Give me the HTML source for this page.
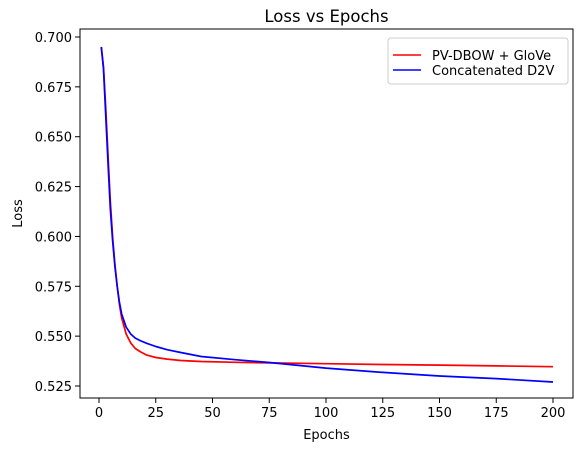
<!DOCTYPE html>
<html><head><meta charset="utf-8"><style>
body{margin:0;background:#fff;}
svg{display:block;font-family:"DejaVu Sans","Liberation Sans",sans-serif;}
</style></head><body>
<svg id="chart" width="588" height="453"></svg>
<script>
const epochs = [1,2,3,4,5,6,7,8,9,10,12,14,16,18,21,25,30,36,45,60,75,100,125,150,175,200];
const pvDbowGlove = [0.695,0.685,0.664,0.640,0.618,0.600,0.586,0.575,0.566,0.559,0.551,0.5465,0.5438,0.5423,0.5405,0.5393,0.5385,0.5378,0.5373,0.5369,0.5366,0.5362,0.5358,0.5355,0.5351,0.5347];
const concatD2V = [0.695,0.684,0.660,0.636,0.614,0.598,0.585,0.575,0.567,0.561,0.5545,0.5510,0.5490,0.5478,0.5464,0.5448,0.5432,0.5418,0.5398,0.5382,0.5368,0.5340,0.5318,0.5300,0.5287,0.5270];
const xTicks = [0,25,50,75,100,125,150,175,200];
const yTicks = [0.525,0.550,0.575,0.600,0.625,0.650,0.675,0.700];
const NS="http://www.w3.org/2000/svg";
const svg=document.getElementById('chart');
const L=80,R=573,T=29,B=398;
const xs=e=>99+(e-0)*(553-99)/200;
const ys=v=>386-(v-0.525)*(386-37)/0.175;
function mk(tag,attrs,parent){const el=document.createElementNS(NS,tag);for(const k in attrs)el.setAttribute(k,attrs[k]);(parent||svg).appendChild(el);return el;}
const title=mk('text',{x:(L+R)/2,y:22,'text-anchor':'middle','font-size':'16.5'});title.textContent='Loss vs Epochs';


xTicks.forEach(t=>{const x=xs(t);mk('line',{x1:x,x2:x,y1:B,y2:B+5,stroke:'#000','stroke-width':1});
const tx=mk('text',{x:x,y:B+19,'text-anchor':'middle','font-size':'13'});tx.textContent=t;

});
yTicks.forEach(t=>{const y=ys(t);mk('line',{x1:L-5,x2:L,y1:y,y2:y,stroke:'#000','stroke-width':1});
const tx=mk('text',{x:L-8,y:y+5,'text-anchor':'end','font-size':'13'});tx.textContent=t.toFixed(3);

});
function line(vals,color,name){const d=epochs.map((e,i)=>(i?'L':'M')+xs(e).toFixed(1)+','+ys(vals[i]).toFixed(1)).join('');
const p=mk('path',{d:d,fill:'none',stroke:color,'stroke-width':1.7,'stroke-linejoin':'round'});

}
line(pvDbowGlove,'#ff0000','pv-dbow-glove-line');
line(concatD2V,'#0000ff','concatenated-d2v-line');
const frame=mk('rect',{x:L,y:T,width:R-L,height:B-T,fill:'none',stroke:'#000','stroke-width':1});


const xl=mk('text',{x:(L+R)/2,y:B+41,'text-anchor':'middle','font-size':'13'});xl.textContent='Epochs';


const yl=mk('text',{x:0,y:0,'text-anchor':'middle','font-size':'13',transform:`translate(22,${(T+B)/2}) rotate(-90)`});yl.textContent='Loss';


const lg=mk('g',{});


mk('rect',{x:388,y:38,width:180,height:46,rx:3,fill:'#fff',stroke:'#ccc'},lg);
[['PV-DBOW + GloVe','#ff0000',55],['Concatenated D2V','#0000ff',70]].forEach(([t,c,y])=>{
mk('line',{x1:393,x2:421,y1:y,y2:y,stroke:c,'stroke-width':1.6},lg);
const tx=mk('text',{x:432,y:y+5,'font-size':'13'},lg);tx.textContent=t;

});
</script>
</body></html>
